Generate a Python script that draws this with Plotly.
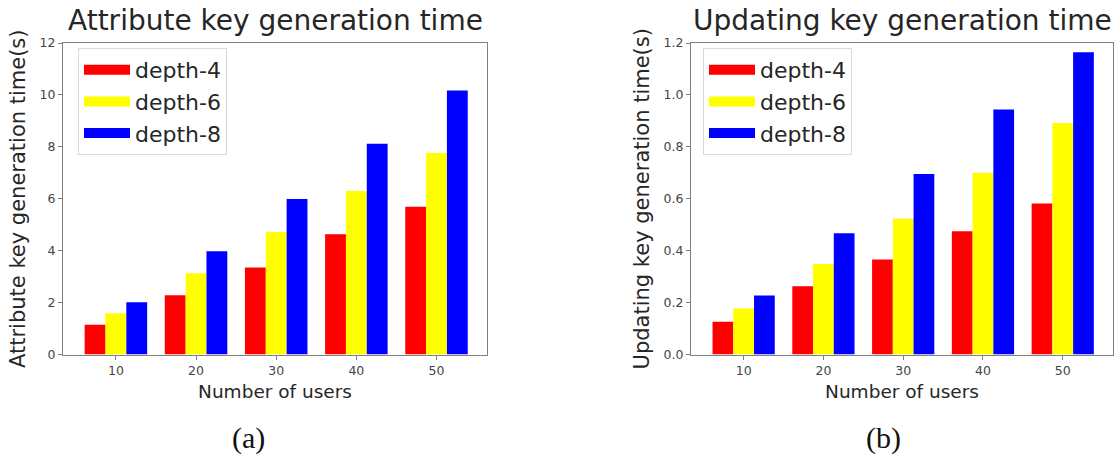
import plotly.graph_objects as go

users = ["10", "20", "30", "40", "50"]
series_names = ["depth-4", "depth-6", "depth-8"]
series_colors = ["#ff0000", "#ffff00", "#0000ff"]

attr_depth4 = [1.15, 2.28, 3.35, 4.63, 5.69]
attr_depth6 = [1.59, 3.13, 4.72, 6.30, 7.76]
attr_depth8 = [2.01, 3.98, 5.99, 8.12, 10.17]

upd_depth4 = [0.126, 0.263, 0.366, 0.475, 0.582]
upd_depth6 = [0.177, 0.349, 0.524, 0.700, 0.892]
upd_depth8 = [0.227, 0.467, 0.695, 0.944, 1.164]

attr_ticks = [0, 2, 4, 6, 8, 10, 12]
upd_ticks = [0.0, 0.2, 0.4, 0.6, 0.8, 1.0, 1.2]
upd_ticktext = ["0.0", "0.2", "0.4", "0.6", "0.8", "1.0", "1.2"]

FONT = "DejaVu Sans"
TXT = "#262626"
AX = "#808080"

fig = go.Figure()

for name, color, vals in zip(series_names, series_colors, [attr_depth4, attr_depth6, attr_depth8]):
    fig.add_trace(go.Bar(x=users, y=vals, name=name, marker=dict(color=color, line=dict(width=0)),
                         xaxis="x", yaxis="y", showlegend=False, offsetgroup=name))
for name, color, vals in zip(series_names, series_colors, [upd_depth4, upd_depth6, upd_depth8]):
    fig.add_trace(go.Bar(x=users, y=vals, name=name, marker=dict(color=color, line=dict(width=0)),
                         xaxis="x2", yaxis="y2", showlegend=False, offsetgroup=name))

# legend entries (wide swatches like matplotlib's)
for lg in ["legend", "legend2"]:
    for name, color in zip(series_names, series_colors):
        fig.add_trace(go.Scatter(x=[None], y=[None], mode="lines", name=name,
                                 line=dict(color=color, width=14), legend=lg,
                                 xaxis="x" if lg == "legend" else "x2",
                                 yaxis="y" if lg == "legend" else "y2"))

ydom = [1 - 354.5 / 461, 1 - 43 / 461]
common_x = dict(type="category", range=[-0.66, 4.63], showline=True, mirror=True, linecolor=AX, linewidth=1,
                ticks="outside", ticklen=4, tickcolor=AX, showgrid=False, zeroline=False, automargin=False,
                tickfont=dict(family=FONT, size=12.5, color="#444444"),
                title=dict(text="Number of users", font=dict(family=FONT, size=18.5, color=TXT), standoff=8))
common_y = dict(showline=True, mirror=True, linecolor=AX, linewidth=1, ticks="outside", ticklen=4,
                tickcolor=AX, showgrid=False, zeroline=False, automargin=False,
                tickfont=dict(family=FONT, size=12.5, color="#444444"))

legend_common = dict(xanchor="left", yanchor="top", bgcolor="rgba(255,255,255,0.8)",
                     bordercolor="#d9d9d9", borderwidth=1, font=dict(family=FONT, size=22, color=TXT),
                     itemwidth=46)

fig.update_layout(
    width=1115, height=461,
    margin=dict(l=0, r=0, t=0, b=0),
    paper_bgcolor="white", plot_bgcolor="white",
    barmode="group", bargap=0.22, bargroupgap=0,
    font=dict(family=FONT, color=TXT),
    xaxis=dict(domain=[63 / 1115, 487 / 1115], anchor="y", **common_x),
    xaxis2=dict(domain=[691 / 1115, 1113 / 1115], anchor="y2", **common_x),
    yaxis=dict(domain=ydom, anchor="x", range=[0, 12], tickvals=attr_ticks,
               title=dict(text="Attribute key generation time(s)", font=dict(family=FONT, size=21, color=TXT), standoff=8),
               **common_y),
    yaxis2=dict(domain=ydom, anchor="x2", range=[0, 1.2], tickvals=upd_ticks, ticktext=upd_ticktext,
                title=dict(text="Updating key generation time(s)", font=dict(family=FONT, size=21, color=TXT), standoff=8),
                **common_y),
    legend=dict(x=78 / 1115, y=1 - 48 / 461, **legend_common),
    legend2=dict(x=703 / 1115, y=1 - 48 / 461, **legend_common),
    annotations=[
        dict(text="Attribute key generation time", xref="paper", yref="paper", x=(63 + 487) / 2 / 1115,
             y=1 - 21 / 461, xanchor="center", yanchor="middle", showarrow=False,
             font=dict(family=FONT, size=28, color=TXT)),
        dict(text="Updating key generation time", xref="paper", yref="paper", x=(691 + 1113) / 2 / 1115,
             y=1 - 21 / 461, xanchor="center", yanchor="middle", showarrow=False,
             font=dict(family=FONT, size=28, color=TXT)),
        dict(text="(a)", xref="paper", yref="paper", x=248 / 1115, y=1 - 438 / 461, xanchor="center",
             yanchor="middle", showarrow=False, font=dict(family="Liberation Serif", size=30, color="#111111")),
        dict(text="(b)", xref="paper", yref="paper", x=883 / 1115, y=1 - 438 / 461, xanchor="center",
             yanchor="middle", showarrow=False, font=dict(family="Liberation Serif", size=30, color="#111111")),
    ],
)

fig.write_html("out.html", config={"displayModeBar": False},
               post_script="document.body.style.margin='0';document.body.style.overflow='hidden';")
